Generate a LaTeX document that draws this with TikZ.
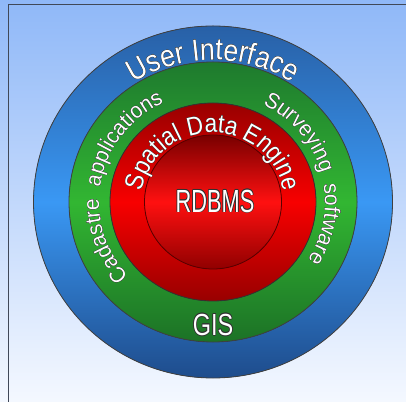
\documentclass[tikz,border=0pt]{standalone}
\usepackage{fontspec}
\usetikzlibrary{decorations.text}
\newfontfamily\fA[FakeStretch=0.87]{Liberation Sans}
\newfontfamily\fB[FakeStretch=0.95]{Liberation Sans}
\newfontfamily\fR[FakeStretch=0.68]{Liberation Sans}
\newfontfamily\fG[FakeStretch=0.77]{Liberation Sans}
\definecolor{bgtop}{HTML}{8FB8F8}
\definecolor{bgbot}{HTML}{F4F8FF}
\definecolor{framec}{HTML}{404858}
\definecolor{bluetop}{HTML}{2860A6}
\definecolor{bluemid}{HTML}{3A98F4}
\definecolor{bluebot}{HTML}{1E4C8C}
\definecolor{greentop}{HTML}{1E7A2E}
\definecolor{greenmid}{HTML}{32B632}
\definecolor{greenbot}{HTML}{1C7226}
\definecolor{redtop}{HTML}{980000}
\definecolor{redmid}{HTML}{F80000}
\definecolor{redbot}{HTML}{980000}
\definecolor{innertop}{HTML}{780000}
\definecolor{innermid}{HTML}{FF1010}
\definecolor{innerbot}{HTML}{900000}
\definecolor{olc}{HTML}{303030}
\newcommand\olt[1]{\leavevmode\rlap{\kern-.7pt\textcolor{olc}{#1}}\rlap{\kern.7pt\textcolor{olc}{#1}}\rlap{\raisebox{.7pt}{\textcolor{olc}{#1}}}\rlap{\raisebox{-.7pt}{\textcolor{olc}{#1}}}\rlap{\kern.5pt\raisebox{.5pt}{\textcolor{olc}{#1}}}\rlap{\kern-.5pt\raisebox{-.5pt}{\textcolor{olc}{#1}}}\rlap{\kern.5pt\raisebox{-.5pt}{\textcolor{olc}{#1}}}\rlap{\kern-.5pt\raisebox{.5pt}{\textcolor{olc}{#1}}}\textcolor{white}{#1}}
\tikzset{
  ring/.style={draw=#1, line width=0.8pt}
}
\begin{document}
\begin{tikzpicture}[x=1pt,y=1pt]
\useasboundingbox (0,0) rectangle (406,401);
\fill[top color=bgtop, bottom color=bgbot] (0,0) rectangle (406,401);
\draw[framec, line width=1.3pt] (8.3,-2) -- (8.3,396.7) -- (408,396.7);
\coordinate (c) at (213,199);
% rings
\fill[top color=bluetop, bottom color=bluebot, middle color=bluemid] (c) ellipse [x radius=179.5pt, y radius=176pt];
\draw[ring=black!75] (c) ellipse [x radius=179.5pt, y radius=176pt];
\fill[top color=greentop, bottom color=greenbot, middle color=greenmid] (c) ellipse [x radius=144pt, y radius=140pt];
\draw[ring=black!75] (c) ellipse [x radius=144pt, y radius=140pt];
\fill[top color=redtop, bottom color=redbot, middle color=redmid] (c) ellipse [x radius=103pt, y radius=99pt];
\draw[ring=black!80] (c) ellipse [x radius=103pt, y radius=99pt];
\fill[top color=innertop, bottom color=innerbot, middle color=innermid] (c) ellipse [x radius=68.5pt, y radius=67pt];
\draw[ring=red!35!black] (c) ellipse [x radius=68.5pt, y radius=67pt];
% curved texts
\foreach \dx/\dy/\cc in {-0.7/0/olc,0.7/0/olc,0/0.7/olc,0/-0.7/olc,0.5/0.5/olc,-0.5/-0.5/olc,0.5/-0.5/olc,-0.5/0.5/olc,0/0/white}{
  \path[xshift=\dx pt, yshift=\dy pt, decorate, decoration={text along path, text align=center, text color=\cc,
    text={|\fA\fontsize{30.5}{32}\selectfont|User Interface}}]
    (c) ++(160:146pt and 142pt) arc[start angle=160, end angle=20, x radius=146pt, y radius=142pt];
  \path[xshift=\dx pt, yshift=\dy pt, decorate, decoration={text along path, text align=center, text color=\cc,
    text={|\fA\fontsize{26}{28}\selectfont|Spatial Data Engine}}]
    (c) ++(190:71.5pt and 69.5pt) arc[start angle=190, end angle=-10, x radius=71.5pt, y radius=69.5pt];
  \path[xshift=\dx pt, yshift=\dy pt, decorate, decoration={text along path, text align=center, text color=\cc,
    text={|\fB\fontsize{22}{24}\selectfont|Cadastre{\ \ }applications}}]
    (c) ++(259:114pt and 110pt) arc[start angle=259, end angle=79, x radius=114pt, y radius=110pt];
  \path[xshift=\dx pt, yshift=\dy pt, decorate, decoration={text along path, text align=center, text color=\cc,
    text={|\fB\fontsize{22}{24}\selectfont|Surveying{\ \ }software}}]
    (c) ++(105.5:112pt and 109pt) arc[start angle=105.5, end angle=-74.5, x radius=112pt, y radius=109pt];
}
% straight texts
\node (rdbms) at (215,200) {\fR\fontsize{32}{34}\selectfont\olt{RDBMS}};
\node (gis) at (213,76) {\fG\fontsize{30.5}{33}\selectfont\olt{GIS}};
\end{tikzpicture}
\end{document}
